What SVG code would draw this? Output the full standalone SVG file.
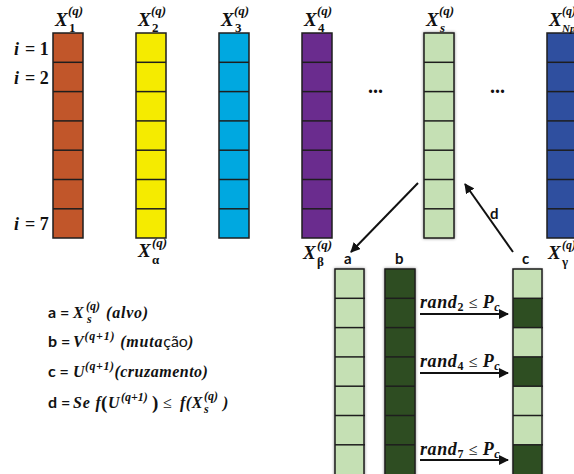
<svg xmlns="http://www.w3.org/2000/svg" width="574" height="474" viewBox="0 0 574 474">
<style>
.col{stroke:#1e1e1e;stroke-width:1.5}
.ln{stroke:#1e1e1e;stroke-width:1.5}
.m{font-family:"Liberation Serif","DejaVu Serif",serif;font-weight:bold;font-style:italic;fill:#111}
.mu{font-family:"Liberation Serif","DejaVu Serif",serif;font-weight:bold;fill:#111}
.mn{font-family:"Liberation Serif","DejaVu Serif",serif;font-weight:normal;fill:#111}
.s{font-family:Lato,"Liberation Sans",sans-serif;font-weight:bold;fill:#111}
.X{font-size:19px}
.sup{font-size:13px}
.arr{stroke:#111;stroke-width:2;fill:none}
.lg{font-size:16px}
.ls{font-size:12px}
</style>
<defs>
<marker id="ah" viewBox="0 0 10 10" refX="9" refY="5" markerWidth="5" markerHeight="5" orient="auto">
<path d="M0,0 L10,5 L0,10 z" fill="#111"/>
</marker>
<filter id="sh" x="-30%" y="-10%" width="160%" height="120%">
<feDropShadow dx="0" dy="0" stdDeviation="1.5" flood-color="#000" flood-opacity="0.45"/>
</filter>
<g id="cells7">
<line class="ln" x1="0" y1="29.3" x2="30" y2="29.3"/>
<line class="ln" x1="0" y1="58.6" x2="30" y2="58.6"/>
<line class="ln" x1="0" y1="87.9" x2="30" y2="87.9"/>
<line class="ln" x1="0" y1="117.2" x2="30" y2="117.2"/>
<line class="ln" x1="0" y1="146.5" x2="30" y2="146.5"/>
<line class="ln" x1="0" y1="175.8" x2="30" y2="175.8"/>
</g>
</defs>
<rect width="574" height="474" fill="#fff"/>

<g id="col1">
<rect class="col" x="53" y="33" width="30" height="205" fill="#C1562A"/>
<use href="#cells7" x="53" y="33"/>
<text class="m X" x="55" y="26">X</text><text class="m sup" x="68" y="15">(q)</text><text class="mu sup" x="69" y="32">1</text>
</g>
<g id="col2">
<rect class="col" x="136" y="33" width="30" height="205" fill="#F5EB00"/>
<use href="#cells7" x="136" y="33"/>
<text class="m X" x="138" y="26">X</text><text class="m sup" x="151" y="15">(q)</text><text class="mu sup" x="152" y="32">2</text>
</g>
<g id="col3">
<rect class="col" x="219" y="33" width="30" height="205" fill="#00A8E0"/>
<use href="#cells7" x="219" y="33"/>
<text class="m X" x="221" y="26">X</text><text class="m sup" x="234" y="15">(q)</text><text class="mu sup" x="235" y="32">3</text>
</g>
<g id="col4">
<rect class="col" x="302" y="33" width="30" height="205" fill="#6A2C8E"/>
<use href="#cells7" x="302" y="33"/>
<text class="m X" x="304" y="26">X</text><text class="m sup" x="317" y="15">(q)</text><text class="mu sup" x="318" y="32">4</text>
</g>
<g id="colS">
<rect class="col" x="424" y="33" width="30" height="205" fill="#C5E0B4" filter="url(#sh)"/>
<use href="#cells7" x="424" y="33"/>
<text class="m X" x="426" y="26">X</text><text class="m sup" x="439" y="15">(q)</text><text class="m sup" x="440" y="32">s</text>
</g>
<g id="colNp">
<rect class="col" x="547" y="33" width="30" height="205" fill="#2F4F9F"/>
<use href="#cells7" x="547" y="33"/>
<text class="m X" x="549" y="26">X</text><text class="m" font-size="12" x="562" y="15">(q)</text><text class="m" font-size="11" x="562" y="32">Np</text>
</g>

<g id="dots">
<text class="mu" font-size="20" x="368" y="93">...</text>
<text class="mu" font-size="20" x="490" y="93">...</text>
</g>

<g id="ilabels">
<text class="m" font-size="18" x="14" y="55">i</text><text class="mu" font-size="18" x="25" y="55">= 1</text>
<text class="m" font-size="18" x="14" y="84">i</text><text class="mu" font-size="18" x="25" y="84">= 2</text>
<text class="m" font-size="18" x="14" y="230">i</text><text class="mu" font-size="18" x="25" y="230">= 7</text>
</g>

<g id="selLabels">
<text class="m X" x="138" y="257">X</text><text class="m sup" x="152" y="247">(q)</text><text class="mu sup" x="152" y="264">α</text>
<text class="m X" x="303" y="259">X</text><text class="m sup" x="317" y="249">(q)</text><text class="mu sup" x="317" y="266">β</text>
<text class="m X" x="548" y="259">X</text><text class="m" font-size="12" x="562" y="249">(q)</text><text class="mu sup" x="562" y="266">γ</text>
</g>

<g id="colA">
<rect class="col" x="335" y="269" width="29" height="210" fill="#C5E0B4" filter="url(#sh)"/>
<use href="#cells7" x="335" y="269"/>
<text class="s" font-size="15" x="344" y="264">a</text>
</g>
<g id="colB">
<rect class="col" x="385" y="269" width="30" height="210" fill="#2E4E22" filter="url(#sh)"/>
<use href="#cells7" x="385" y="269"/>
<text class="s" font-size="15" x="395" y="264">b</text>
</g>
<g id="colC">
<rect x="513" y="269" width="29" height="210" fill="#C5E0B4" filter="url(#sh)"/>
<rect x="513" y="298.3" width="29" height="29.3" fill="#2E4E22"/>
<rect x="513" y="356.9" width="29" height="29.3" fill="#2E4E22"/>
<rect x="513" y="444.8" width="29" height="34" fill="#2E4E22"/>
<rect class="col" x="513" y="269" width="29" height="210" fill="none"/>
<use href="#cells7" x="513" y="269"/>
<text class="s" font-size="15" x="522" y="264">c</text>
</g>

<g id="connectors">
<line class="arr" x1="418" y1="183" x2="351" y2="252" marker-end="url(#ah)"/>
<line class="arr" x1="513" y1="252" x2="465" y2="184" marker-end="url(#ah)"/>
<line class="arr" x1="420" y1="314" x2="508" y2="314" stroke-width="1.6" marker-end="url(#ah)"/>
<line class="arr" x1="420" y1="373" x2="508" y2="373" stroke-width="1.6" marker-end="url(#ah)"/>
<line class="arr" x1="420" y1="460" x2="508" y2="460" stroke-width="1.6" marker-end="url(#ah)"/>
<text class="s" font-size="15" x="490" y="219">d</text>
</g>

<g id="randLabels">
<text class="m" font-size="18" x="420" y="308" letter-spacing="0.6">rand<tspan font-size="12" font-style="normal" dy="3">2</tspan><tspan font-style="normal" font-weight="normal" font-size="16" dy="-3"> ≤ </tspan>P<tspan font-size="12" dy="3">c</tspan></text>
<text class="m" font-size="18" x="420" y="367" letter-spacing="0.6">rand<tspan font-size="12" font-style="normal" dy="3">4</tspan><tspan font-style="normal" font-weight="normal" font-size="16" dy="-3"> ≤ </tspan>P<tspan font-size="12" dy="3">c</tspan></text>
<text class="m" font-size="18" x="420" y="455" letter-spacing="0.6">rand<tspan font-size="12" font-style="normal" dy="3">7</tspan><tspan font-style="normal" font-weight="normal" font-size="16" dy="-3"> ≤ </tspan>P<tspan font-size="12" dy="3">c</tspan></text>
</g>

<g id="legend">
<text class="s lg" x="48" y="318">a =</text>
<text class="m lg" x="73" y="318">X</text>
<text class="m ls" x="86" y="310">(q)</text>
<text class="m ls" x="87" y="323">s</text>
<text class="m lg" x="106" y="318" letter-spacing="0.8">(alvo)</text>

<text class="s lg" x="48" y="347">b =</text>
<text class="m lg" x="73" y="347" letter-spacing="0.8">V<tspan font-size="12" dy="-7">(q+1)</tspan><tspan dy="7">  (muta</tspan><tspan font-style="normal" font-weight="normal" font-family="Lato,'Liberation Sans',sans-serif" letter-spacing="0">ção</tspan>)</text>

<text class="s lg" x="48" y="377">c =</text>
<text class="m lg" x="73" y="377" letter-spacing="0.5">U<tspan font-size="12" dy="-7">(q+1)</tspan><tspan dy="7">(cruzamento)</tspan></text>

<text class="s lg" x="48" y="408">d =</text>
<text class="m lg" x="73" y="408" letter-spacing="0.8">Se f</text>
<text class="mu" font-size="19" x="101" y="409">(</text>
<text class="m lg" x="108" y="408">U</text>
<text class="m ls" x="121" y="401">(q+1)</text>
<text class="mu" font-size="19" x="152" y="409">)</text>
<text class="mn lg" x="163" y="408">≤</text>
<text class="m lg" x="180" y="408" letter-spacing="0.5">f(X</text>
<text class="m ls" x="204" y="400">(q)</text>
<text class="m ls" x="204" y="413">s</text>
<text class="m lg" x="223" y="408">)</text>
</g>
</svg>
